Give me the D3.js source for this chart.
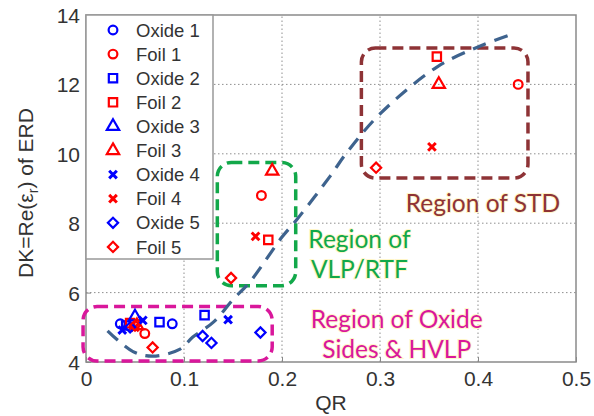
<!DOCTYPE html>
<html>
<head>
<meta charset="utf-8">
<script src="https://cdn.jsdelivr.net/npm/d3@7"></script>
<style>
  body { margin: 0; background: #fff; }
  svg { display: block; }
</style>
</head>
<body>
<div id="chart"></div>
<script>
// legend entries, in plotting order
var seriesNames = ["Oxide 1", "Foil 1", "Oxide 2", "Foil 2", "Oxide 3", "Foil 3", "Oxide 4", "Foil 4", "Oxide 5", "Foil 5"];
var seriesShapes = ["circle", "circle", "square", "square", "triangle", "triangle", "x", "x", "diamond", "diamond"];
var seriesColors = ["#0000ff", "#ff0000", "#0000ff", "#ff0000", "#0000ff", "#ff0000", "#0000ff", "#ff0000", "#0000ff", "#ff0000"];

// QR and DK, one list per series
var seriesQR = [
  [0.035, 0.088],
  [0.060, 0.179, 0.441],
  [0.041, 0.075, 0.121],
  [0.045, 0.186, 0.358],
  [0.050],
  [0.052, 0.190, 0.360],
  [0.037, 0.058, 0.145],
  [0.050, 0.173, 0.353],
  [0.045, 0.119, 0.128, 0.178],
  [0.050, 0.068, 0.148, 0.296]
];
var seriesDK = [
  [5.10, 5.10],
  [4.82, 8.80, 12.00],
  [5.05, 5.15, 5.35],
  [5.12, 7.52, 12.80],
  [5.30],
  [5.05, 9.50, 12.00],
  [4.92, 5.20, 5.22],
  [5.00, 7.62, 10.20],
  [5.00, 4.75, 4.55, 4.85],
  [5.05, 4.42, 6.42, 9.60]
];

// dashed trend curve
var trendQR = [0.022, 0.048, 0.068, 0.096, 0.109, 0.130, 0.150, 0.167, 0.200, 0.215, 0.249, 0.266, 0.300, 0.358, 0.400, 0.433];
var trendDK = [4.90, 4.30, 4.17, 4.37, 4.72, 5.15, 5.80, 6.30, 7.60, 8.10, 9.35, 10.03, 11.15, 12.50, 13.08, 13.43];

// rounded dashed regions
var regionQR0 = [-0.003, 0.134, 0.281];
var regionQR1 = [0.190, 0.214, 0.451];
var regionDK0 = [4.03, 6.20, 9.30];
var regionDK1 = [5.60, 9.75, 13.05];
var regionColors = ["#d9179b", "#12a84a", "#8e3336"];

var regionText = [["Region of Oxide", "Sides & HVLP"], ["Region of", "VLP/RTF"], ["Region of STD"]];
var regionTextQR = [0.317, 0.279, 0.405];
var regionTextDK = [4.98, 7.29, 8.32];

var xTicks = [0, 0.1, 0.2, 0.3, 0.4, 0.5];
var yTicks = [4, 6, 8, 10, 12, 14];

var W = 594, H = 416;
var svg = d3.select("#chart").append("svg").attr("width", W).attr("height", H);

var x = d3.scaleLinear().domain([0, 0.5]).range([86, 576]);
var y = d3.scaleLinear().domain([4, 14]).range([362, 15]);

// grid
svg.append("g").selectAll("line").data(xTicks.slice(1, -1)).enter().append("line")
  .attr("x1", function(d) { return x(d); }).attr("x2", function(d) { return x(d); })
  .attr("y1", y(4)).attr("y2", y(14))
  .style("stroke", "#8f8f8f").style("stroke-width", 1).style("stroke-dasharray", "1.5,2.5");
svg.append("g").selectAll("line").data(yTicks.slice(1, -1)).enter().append("line")
  .attr("y1", function(d) { return y(d); }).attr("y2", function(d) { return y(d); })
  .attr("x1", x(0)).attr("x2", x(0.5))
  .style("stroke", "#8f8f8f").style("stroke-width", 1).style("stroke-dasharray", "1.5,2.5");

// axes
var xAxis = d3.axisBottom(x).tickValues(xTicks).tickSize(-5).tickPadding(9)
  .tickFormat(function(d) { return d === 0 ? "0" : d3.format(".1f")(d); });
var yAxis = d3.axisLeft(y).tickValues(yTicks).tickSize(-5).tickPadding(6).tickFormat(d3.format("d"));

var gx = svg.append("g").attr("transform", "translate(0," + y(4) + ")").call(xAxis);
var gy = svg.append("g").attr("transform", "translate(" + x(0) + ",0)").call(yAxis);
[gx, gy].forEach(function(g) {
  g.select(".domain").remove();
  g.selectAll("line").style("stroke", "#888");
  g.selectAll("text").style("font-family", "Arial, 'Liberation Sans', sans-serif")
    .style("font-size", "21px").style("fill", "#333");
});
gy.selectAll("text").attr("dy", "0.36em");

svg.append("rect").attr("x", x(0)).attr("y", y(14))
  .attr("width", x(0.5) - x(0)).attr("height", y(4) - y(14))
  .style("fill", "none").style("stroke", "#8a8a8a").style("stroke-width", 1.5);

// region boxes
svg.append("g").selectAll("rect").data(regionColors).enter().append("rect")
  .attr("x", function(d, i) { return x(regionQR0[i]); })
  .attr("y", function(d, i) { return y(regionDK1[i]); })
  .attr("width", function(d, i) { return x(regionQR1[i]) - x(regionQR0[i]); })
  .attr("height", function(d, i) { return y(regionDK0[i]) - y(regionDK1[i]); })
  .attr("rx", 14).attr("ry", 14)
  .style("fill", "none").style("stroke", function(d) { return d; })
  .style("stroke-width", 3.5).style("stroke-dasharray", "11,6");

// trend curve
var trend = trendQR.map(function(q, i) { return [q, trendDK[i]]; });
svg.append("path").datum(trend)
  .attr("d", d3.line().x(function(d) { return x(d[0]); }).y(function(d) { return y(d[1]); }).curve(d3.curveCatmullRom))
  .style("fill", "none").style("stroke", "#3e638e").style("stroke-width", 3.2)
  .style("stroke-dasharray", "14,9");

// markers
function markerPath(shape) {
  if (shape === "circle") return d3.symbol(d3.symbolCircle, 60)();
  if (shape === "square") return d3.symbol(d3.symbolSquare, 70)();
  if (shape === "triangle") return d3.symbol(d3.symbolTriangle, 66)();
  if (shape === "x") return d3.symbol(d3.symbolX, 40)();
  return d3.symbol(d3.symbolSquare, 52)();
}
function markerRotate(shape) { return shape === "diamond" ? " rotate(45)" : ""; }

var points = [];
seriesNames.forEach(function(name, s) {
  seriesQR[s].forEach(function(q, k) {
    points.push({ s: s, qr: q, dk: seriesDK[s][k] });
  });
});
svg.append("g").selectAll("path").data(points).enter().append("path")
  .attr("d", function(d) { return markerPath(seriesShapes[d.s]); })
  .attr("transform", function(d) {
    return "translate(" + x(d.qr) + "," + y(d.dk) + ")" + markerRotate(seriesShapes[d.s]);
  })
  .style("fill", "none").style("stroke", function(d) { return seriesColors[d.s]; })
  .style("stroke-width", function(d) { return seriesShapes[d.s] === "x" ? 3 : 2.2; });

// legend
var legend = svg.append("g");
legend.append("rect").attr("x", x(0)).attr("y", y(14)).attr("width", 127).attr("height", 244)
  .style("fill", "#fff").style("stroke", "#999").style("stroke-width", 1.5);
var items = legend.selectAll("g").data(seriesNames).enter().append("g")
  .attr("transform", function(d, i) { return "translate(" + 113 + "," + (30 + i * 24.1) + ")"; });
items.append("path")
  .attr("d", function(d, i) { return markerPath(seriesShapes[i]); })
  .attr("transform", function(d, i) { return markerRotate(seriesShapes[i]).trim(); })
  .style("fill", "none").style("stroke", function(d, i) { return seriesColors[i]; })
  .style("stroke-width", function(d, i) { return seriesShapes[i] === "x" ? 3 : 2.2; });
items.append("text").attr("x", 23).attr("dy", "0.36em").text(function(d) { return d; })
  .style("font-family", "Arial, 'Liberation Sans', sans-serif").style("font-size", "18.5px").style("fill", "#333");

// region labels
var rl = svg.append("g").selectAll("text").data(regionText).enter().append("text")
  .attr("x", function(d, i) { return x(regionTextQR[i]); })
  .attr("y", function(d, i) { return y(regionTextDK[i]); })
  .attr("text-anchor", "middle")
  .style("font-family", "Lato, 'Open Sans', sans-serif").style("font-size", "24.5px")
  .style("fill", function(d, i) { return regionColors[i]; })
  .style("stroke", "#fff6c8").style("stroke-width", 2).style("paint-order", "stroke");
rl.selectAll("tspan").data(function(d) { return d; }).enter().append("tspan")
  .attr("x", function() { return d3.select(this.parentNode).attr("x"); })
  .attr("dy", function(d, i) { return i === 0 ? 0 : 30; })
  .text(function(d) { return d; });

// axis titles
svg.append("text").attr("x", (x(0) + x(0.5)) / 2).attr("y", 410).attr("text-anchor", "middle")
  .style("font-family", "Arial, 'Liberation Sans', sans-serif").style("font-size", "21px").style("fill", "#333")
  .text("QR");
var yl = svg.append("text").attr("transform", "translate(33,193) rotate(-90)").attr("text-anchor", "middle")
  .style("font-family", "Arial, 'Liberation Sans', sans-serif").style("font-size", "21px").style("fill", "#333");
yl.append("tspan").text("DK=Re(\u03b5");
yl.append("tspan").attr("dy", 5).style("font-size", "14px").text("r");
yl.append("tspan").attr("dy", -5).text(") of ERD");
</script>
</body>
</html>
